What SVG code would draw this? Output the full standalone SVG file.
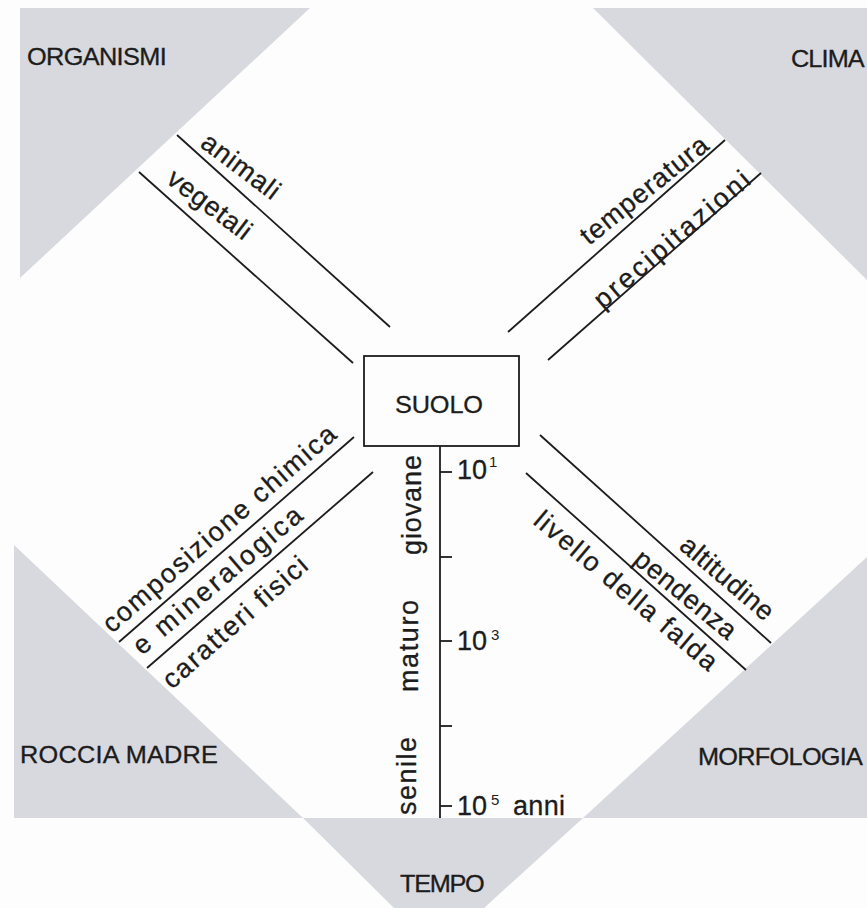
<svg xmlns="http://www.w3.org/2000/svg" width="867" height="908" viewBox="0 0 867 908">
<style>
.bg{fill:#fdfdfd}
.grey{fill:#d8d9de}
.ln{stroke:#1c1c1c;stroke-width:1.8;fill:none}
.cap{font-family:"Liberation Sans",Arial,sans-serif;font-size:23px;fill:#1c1c1c;stroke:#1c1c1c;stroke-width:0.3}
.lab{font-family:"Liberation Sans",Arial,sans-serif;font-size:27px;fill:#1c1c1c;stroke:#1c1c1c;stroke-width:0.3}
.sup{font-family:"Liberation Sans",Arial,sans-serif;font-size:15px;fill:#1c1c1c}
</style>
<rect class="bg" x="0" y="0" width="867" height="908"/>
<g id="background">
<polygon class="grey" points="20,8 310,8 20,278"/>
<polygon class="grey" points="593,8 867,8 867,280"/>
<polygon class="grey" points="14,545 14,818 303,818"/>
<polygon class="grey" points="867,557 867,818 583,818"/>
<polygon class="grey" points="303,818 583,818 484,908 394,908"/>
</g>
<g id="organismi">
<text class="cap" transform="translate(27,65) scale(1.1,1)" textLength="127" lengthAdjust="spacing">ORGANISMI</text>
</g>
<g id="clima">
<text class="cap" transform="translate(791,67) scale(1.1,1)" textLength="67" lengthAdjust="spacing">CLIMA</text>
</g>
<g id="roccia-madre">
<text class="cap" transform="translate(20,763) scale(1.1,1)" textLength="180" lengthAdjust="spacing">ROCCIA MADRE</text>
</g>
<g id="morfologia">
<text class="cap" transform="translate(698,765) scale(1.1,1)" textLength="150" lengthAdjust="spacing">MORFOLOGIA</text>
</g>
<g id="tempo">
<text class="cap" transform="translate(400,892) scale(1.1,1)" textLength="77" lengthAdjust="spacing">TEMPO</text>
</g>
<g id="suolo">
<rect class="ln" x="364" y="356" width="155" height="90"/>
<text class="cap" transform="translate(395,413) scale(1.1,1)" textLength="80" lengthAdjust="spacing">SUOLO</text>
</g>
<g id="connectors">
<line class="ln" x1="177" y1="135" x2="390" y2="327"/>
<line class="ln" x1="139" y1="172" x2="353" y2="363"/>
<line class="ln" x1="725" y1="140" x2="508" y2="332"/>
<line class="ln" x1="761" y1="173" x2="548" y2="360"/>
<line class="ln" x1="354" y1="437" x2="119" y2="642"/>
<line class="ln" x1="373" y1="472" x2="147" y2="668"/>
<line class="ln" x1="540" y1="435" x2="771" y2="643"/>
<line class="ln" x1="526" y1="473" x2="746" y2="670"/>
</g>
<g id="organismi-labels">
<text class="lab" transform="translate(199,146) rotate(37)" textLength="91" lengthAdjust="spacing">animali</text>
<text class="lab" transform="translate(165,182) rotate(37.1)" textLength="98" lengthAdjust="spacing">vegetali</text>
</g>
<g id="clima-labels">
<text class="lab" transform="translate(589,246) rotate(-38.8)" textLength="156" lengthAdjust="spacing">temperatura</text>
<text class="lab" transform="translate(603,310) rotate(-40.4)" textLength="196" lengthAdjust="spacing">precipitazioni</text>
</g>
<g id="roccia-labels">
<text class="lab" transform="translate(112,634) rotate(-41.1)" textLength="300" lengthAdjust="spacing">composizione chimica</text>
<text class="lab" transform="translate(142,656) rotate(-40.3)" textLength="213" lengthAdjust="spacing">e  mineralogica</text>
<text class="lab" transform="translate(172,690) rotate(-41.5)" textLength="184" lengthAdjust="spacing">caratteri fisici</text>
</g>
<g id="morfologia-labels">
<text class="lab" transform="translate(678,548) rotate(40.4)" textLength="114" lengthAdjust="spacing">altitudine</text>
<text class="lab" transform="translate(632,562) rotate(39.5)" textLength="124" lengthAdjust="spacing">pendenza</text>
<text class="lab" transform="translate(532,523) rotate(40.2)" textLength="231" lengthAdjust="spacing">livello  della  falda</text>
</g>
<g id="time-axis">
<line class="ln" x1="440" y1="446" x2="440" y2="818"/>
<line class="ln" x1="440" y1="472" x2="452" y2="472"/>
<line class="ln" x1="440" y1="557" x2="452" y2="557"/>
<line class="ln" x1="440" y1="641" x2="452" y2="641"/>
<line class="ln" x1="440" y1="726" x2="452" y2="726"/>
<line class="ln" x1="440" y1="806" x2="452" y2="806"/>
<text class="lab" x="457" y="479" font-size="25" textLength="30" lengthAdjust="spacing">10</text>
<text class="sup" x="489" y="467" font-size="12">1</text>
<text class="lab" x="457" y="650" font-size="25" textLength="30" lengthAdjust="spacing">10</text>
<text class="sup" x="491" y="640">3</text>
<text class="lab" x="457" y="815" font-size="25" textLength="30" lengthAdjust="spacing">10</text>
<text class="sup" x="491" y="805">5</text>
<text class="lab" x="513" y="815" textLength="52" lengthAdjust="spacing">anni</text>
<text class="lab" transform="translate(421,555) rotate(-90)" textLength="100" lengthAdjust="spacing">giovane</text>
<text class="lab" transform="translate(418,692) rotate(-90)" textLength="92" lengthAdjust="spacing">maturo</text>
<text class="lab" transform="translate(416,815) rotate(-90)" textLength="78" lengthAdjust="spacing">senile</text>
</g>
</svg>
